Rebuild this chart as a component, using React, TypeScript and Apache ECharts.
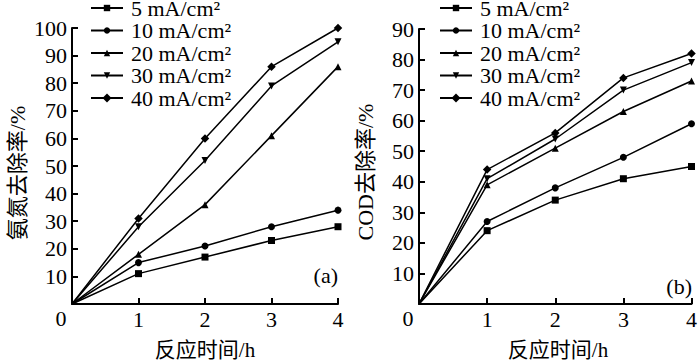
import React, { useEffect, useRef } from "react";
import * as echarts from "echarts";

const xValues = [0, 1, 2, 3, 4];
const seriesNames = ["5 mA/cm²", "10 mA/cm²", "20 mA/cm²", "30 mA/cm²", "40 mA/cm²"];
const symbols = ["rect", "circle", "triangle", "triangle", "diamond"];
const rotations = [0, 0, 0, 180, 45];

const ammoniaA = [
  [0, 11, 17, 23, 28],
  [0, 15, 21, 28, 34],
  [0, 18, 36, 61, 86],
  [0, 28, 52, 79, 95],
  [0, 31, 60, 86, 100],
];
const codB = [
  [0, 24, 34, 41, 45],
  [0, 27, 38, 48, 59],
  [0, 39, 51, 63, 73],
  [0, 41, 54, 70, 79],
  [0, 44, 56, 74, 82],
];

const xTickLabels = ["0", "1", "2", "3", "4"];
const titleA = "氨氮去除率/%";
const titleB = "COD去除率/%";
const xTitle = "反应时间/h";

const FONT = "'Liberation Serif', 'Noto Sans CJK SC', serif";
const CJK = "'Liberation Serif', 'Noto Sans CJK SC', sans-serif";

export default function App() {
  const ref = useRef<HTMLDivElement>(null);
  useEffect(() => {
    document.body.style.margin = "0";
    if (!ref.current) return;
    const chart = echarts.init(ref.current, null, { renderer: "svg" });

    const mkSeries = (vals: number[][], axisIndex: number) =>
      vals.map((row, i) => ({
        name: seriesNames[i],
        type: "line",
        xAxisIndex: axisIndex,
        yAxisIndex: axisIndex,
        symbol: symbols[i] === "diamond" ? "rect" : symbols[i],
        symbolRotate: rotations[i],
        symbolSize: symbols[i] === "diamond" ? 6 : 7,
        showAllSymbol: true,
        lineStyle: { color: "#000", width: 1.5 },
        itemStyle: { color: "#000" },
        data: row.map((v, j) =>
          j === 0 ? { value: [xValues[j], v], symbol: "none" } : { value: [xValues[j], v] }
        ),
      }));

    const xAxisCommon = (gridIndex: number) => ({
      type: "value",
      gridIndex,
      min: 0,
      max: 4,
      interval: 1,
      axisLine: { lineStyle: { color: "#000", width: 2 } },
      axisTick: { inside: true, length: 6, lineStyle: { color: "#000", width: 2 } },
      splitLine: { show: false },
      axisLabel: {
        color: "#000",
        fontFamily: FONT,
        fontSize: 22,
        margin: 4,
        formatter: (v: number) => (v === 0 ? "" : xTickLabels[v]),
      },
    });
    const yAxisCommon = (gridIndex: number, max: number) => ({
      type: "value",
      gridIndex,
      min: 0,
      max,
      interval: 10,
      axisLine: { show: true, lineStyle: { color: "#000", width: 2 } },
      axisTick: { show: true, inside: true, length: 6, lineStyle: { color: "#000", width: 2 } },
      splitLine: { show: false },
      axisLabel: {
        color: "#000",
        fontFamily: FONT,
        fontSize: 22,
        margin: 5,
        formatter: (v: number) => (v === 0 ? "" : String(v)),
      },
    });
    const legendCommon = (left: number) => ({
      left,
      top: -3,
      padding: 0,
      orient: "vertical",
      itemWidth: 32,
      itemHeight: 8,
      itemGap: 0.5,
      selectedMode: false,
      textStyle: { color: "#000", fontFamily: FONT, fontSize: 22, padding: [0, 0, 0, 3] },
      data: seriesNames,
    });

    chart.setOption({
      animation: false,
      backgroundColor: "#fff",
      grid: [
        { left: 72, right: 362, top: 28, bottom: 58 },
        { left: 419, right: 8, top: 29, bottom: 58 },
      ],
      xAxis: [xAxisCommon(0), xAxisCommon(1)],
      yAxis: [yAxisCommon(0, 100), yAxisCommon(1, 90)],
      legend: [legendCommon(90), legendCommon(439)],
      series: [...mkSeries(ammoniaA, 0), ...mkSeries(codB, 1)],
      graphic: [
        { type: "text", x: 61, y: 318, style: { text: xTickLabels[0], font: `22px ${FONT}`, fill: "#000", textAlign: "center", textVerticalAlign: "middle" } },
        { type: "text", x: 408, y: 318, style: { text: xTickLabels[0], font: `22px ${FONT}`, fill: "#000", textAlign: "center", textVerticalAlign: "middle" } },
        { type: "text", x: 205, y: 350, style: { text: xTitle, font: `21px ${CJK}`, fill: "#000", textAlign: "center", textVerticalAlign: "middle" } },
        { type: "text", x: 558, y: 350, style: { text: xTitle, font: `21px ${CJK}`, fill: "#000", textAlign: "center", textVerticalAlign: "middle" } },
        { type: "text", x: 17, y: 173, rotation: Math.PI / 2, style: { text: titleA, font: `22px ${CJK}`, fill: "#000", textAlign: "center", textVerticalAlign: "middle" } },
        { type: "text", x: 365, y: 172, rotation: Math.PI / 2, style: { text: titleB, font: `22px ${CJK}`, fill: "#000", textAlign: "center", textVerticalAlign: "middle" } },
        { type: "text", x: 338, y: 275, style: { text: "(a)", font: `22px ${FONT}`, fill: "#000", textAlign: "right", textVerticalAlign: "middle" } },
        { type: "text", x: 692, y: 286, style: { text: "(b)", font: `22px ${FONT}`, fill: "#000", textAlign: "right", textVerticalAlign: "middle" } },
      ],
    });
    return () => chart.dispose();
  }, []);
  return <div ref={ref} style={{ width: 700, height: 362 }} />;
}
